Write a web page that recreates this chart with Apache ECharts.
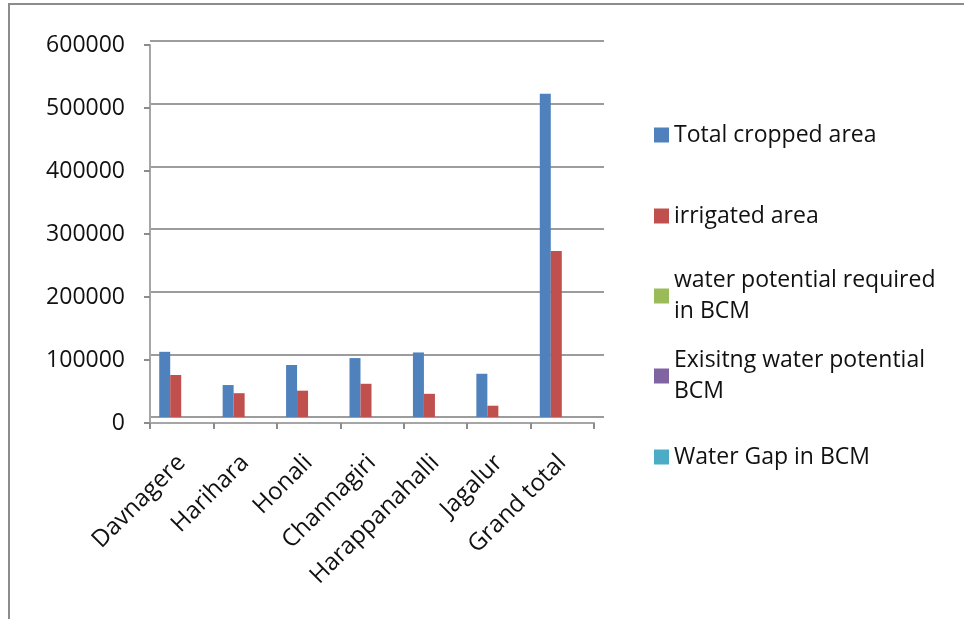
<!DOCTYPE html>
<html>
<head>
<meta charset="utf-8">
<script src="https://cdn.jsdelivr.net/npm/echarts@6/dist/echarts.min.js"></script>
<style>html,body{margin:0;padding:0;background:#fff}#c{width:964px;height:619px}</style>
</head>
<body>
<div id="c"></div>
<script>
var categories = ['Davnagere','Harihara','Honali','Channagiri','Harappanahalli','Jagalur','Grand total'];
var totalCropped = [104000, 51000, 83000, 94000, 103000, 69000, 516000];
var irrigated = [67000, 38000, 42000, 53000, 37000, 18000, 265000];
var waterRequired = [0.9, 0.5, 0.6, 0.7, 0.8, 0.5, 4.0];
var waterExisting = [0.5, 0.3, 0.3, 0.4, 0.3, 0.1, 1.9];
var waterGap = [0.4, 0.2, 0.3, 0.3, 0.5, 0.4, 2.1];
var seriesNames = ['Total cropped area','irrigated area','water potential required\nin BCM','Exisitng water potential\nBCM','Water Gap in BCM'];
var seriesColors = ['#4F81BD','#C0504D','#9BBB59','#8064A2','#4BACC6'];
var yTicks = [0, 100000, 200000, 300000, 400000, 500000, 600000];

var FONT = '"Open Sans"';
var chart = echarts.init(document.getElementById('c'), null, {renderer:'canvas'});
var values = [totalCropped, irrigated, waterRequired, waterExisting, waterGap];
var legendTops = [119.5, 200.5, 249.5, 329.5, 441.5];

var legends = seriesNames.map(function(n, i){
  var twoLine = n.indexOf('\n') >= 0;
  return {
    data: [n], left: 654, top: legendTops[i], orient: 'vertical', padding: 0,
    icon: 'rect', itemWidth: 15, itemHeight: 15, itemGap: 0,
    selectedMode: false,
    textStyle: {fontFamily: FONT, fontSize: 23, color: '#111', lineHeight: 31,
      padding: twoLine ? [31, 0, 0, 0] : 0}
  };
});

var option = {
  animation: false,
  backgroundColor: '#fff',
  color: seriesColors,
  graphic: [{type:'rect', shape:{x:9, y:4, width:970, height:630}, style:{fill:'none', stroke:'#8c8c8c', lineWidth:2}, silent:true}],
  legend: legends,
  grid: [
    {left:150, right:370, top:45, bottom:196},   // front axes
    {left:150, right:360, top:41, bottom:202},   // back wall gridlines
    {left:155, right:365, top:41, bottom:202}    // bars
  ],
  xAxis: [
    {type:'category', gridIndex:0, data:categories, boundaryGap:true,
     axisLine:{show:true, lineStyle:{color:'#a6a6a6', width:2}},
     axisTick:{show:true, length:6, alignWithLabel:false, lineStyle:{color:'#8c8c8c', width:2}},
     axisLabel:{rotate:45, interval:0, margin:36, fontFamily:FONT, fontSize:24, color:'#111'}},
    {type:'category', gridIndex:1, data:categories, show:false},
    {type:'category', gridIndex:2, data:categories, show:false}
  ],
  yAxis: [
    {type:'value', gridIndex:0, min:yTicks[0], max:yTicks[yTicks.length-1], interval:yTicks[1]-yTicks[0],
     axisLine:{show:true, lineStyle:{color:'#a6a6a6', width:2}},
     axisTick:{show:true, length:6, lineStyle:{color:'#8c8c8c', width:2}},
     splitLine:{show:false},
     axisLabel:{margin:25, fontFamily:FONT, fontSize:23, color:'#111', padding:[8,0,0,0], formatter: function(v){ return String(v); }}},
    {type:'value', gridIndex:1, min:yTicks[0], max:yTicks[yTicks.length-1], interval:yTicks[1]-yTicks[0],
     axisLine:{show:false}, axisTick:{show:false}, axisLabel:{show:false},
     splitLine:{show:true, lineStyle:{color:'#9c9c9c', width:2}}},
    {type:'value', gridIndex:2, min:yTicks[0], max:yTicks[yTicks.length-1], interval:yTicks[1]-yTicks[0],
     show:false, splitLine:{show:false}}
  ],
  series: seriesNames.map(function(n, i){
    return {
      name: n, type:'bar', xAxisIndex:2, yAxisIndex:2, data: values[i],
      barWidth: 11, barGap: '0%',
      itemStyle: {color: seriesColors[i]}
    };
  })
};
chart.setOption(option);
</script>
</body>
</html>
